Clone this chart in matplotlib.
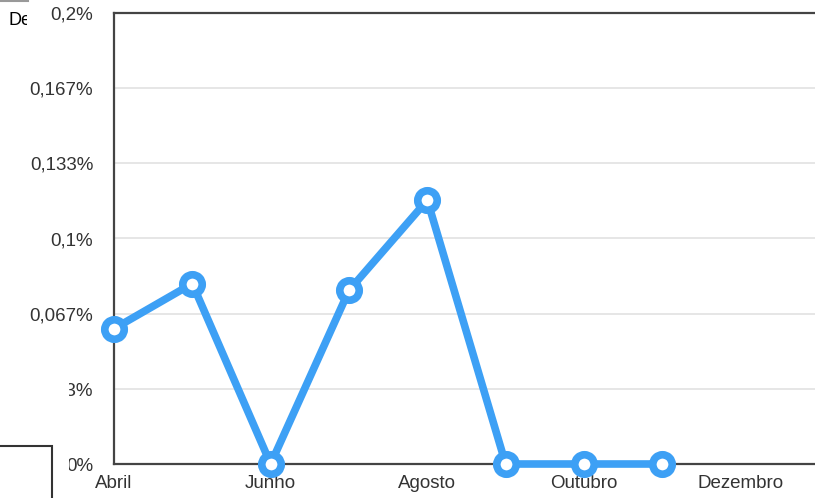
import matplotlib
matplotlib.use("Agg")
import matplotlib.pyplot as plt
from matplotlib.patches import Rectangle
from matplotlib.lines import Line2D

months = ["Abril", "Maio", "Junho", "Julho", "Agosto", "Setembro", "Outubro", "Novembro"]
values = [0.060, 0.080, 0.0, 0.077, 0.117, 0.0, 0.0, 0.0]
tick_positions = [0, 2, 4, 6, 8]
tick_labels = ["Abril", "Junho", "Agosto", "Outubro", "Dezembro"]
y_ticks = [0, 0.2/6, 0.2/6*2, 0.1, 0.2/6*4, 0.2/6*5, 0.2]
y_labels = ["0%", "0,033%", "0,067%", "0,1%", "0,133%", "0,167%", "0,2%"]

W, H = 815, 498
fig = plt.figure(figsize=(W/100, H/100), dpi=100)
plt.rcParams['font.family'] = ['Liberation Sans', 'DejaVu Sans']

ax_left, ax_right = 114, 819
ax_top, ax_bot = 13, 464
ax = fig.add_axes([ax_left/W, (H-ax_bot)/H, (ax_right-ax_left)/W, (ax_bot-ax_top)/H])

blue = "#3DA0F5"
xs = list(range(len(months)))
ax.plot(xs, values, color=blue, lw=5.5, marker="o", ms=14, mfc="white",
        mec=blue, mew=5.5, zorder=5, clip_on=False, solid_joinstyle="miter")

ax.set_xlim(0, 9)
ax.set_ylim(0, 0.2)
ax.set_yticks(y_ticks)
ax.set_yticklabels(y_labels)
ax.set_xticks(tick_positions)
ax.set_xticklabels(tick_labels)
ax.tick_params(axis="both", length=0, labelsize=13.5, labelcolor="#333333")
ax.tick_params(axis="y", pad=15)
ax.tick_params(axis="x", pad=8)
ax.yaxis.grid(True, color="#e2e2e2", lw=1.2)
ax.set_axisbelow(True)
for s in ["left", "bottom", "top"]:
    ax.spines[s].set_color("#444444")
    ax.spines[s].set_linewidth(1.6)
ax.spines["right"].set_visible(False)

# overlapping page elements (screenshot artifacts)
fig.text(9/W, 1 - 20/H, "Dez", fontsize=13, color="black", va="center", ha="left", zorder=1)
fig.patches.append(Rectangle((27/W, 1 - 40/H), 18/W, 40/H, transform=fig.transFigure,
                             facecolor="white", edgecolor="none", zorder=10))
fig.lines.append(Line2D([0, 28/W], [1 - 1.5/H, 1 - 1.5/H], transform=fig.transFigure,
                        color="#999999", lw=1.5, zorder=11))
fig.patches.append(Rectangle((0, 0), 69/W, 1 - 350/H, transform=fig.transFigure,
                             facecolor="white", edgecolor="none", zorder=10))
fig.patches.append(Rectangle((-5/W, -5/H), 57/W, (498 - 446 + 5)/H, transform=fig.transFigure,
                             facecolor="white", edgecolor="#333333", lw=1.5, zorder=11))

fig.savefig("out.png", dpi=100)
